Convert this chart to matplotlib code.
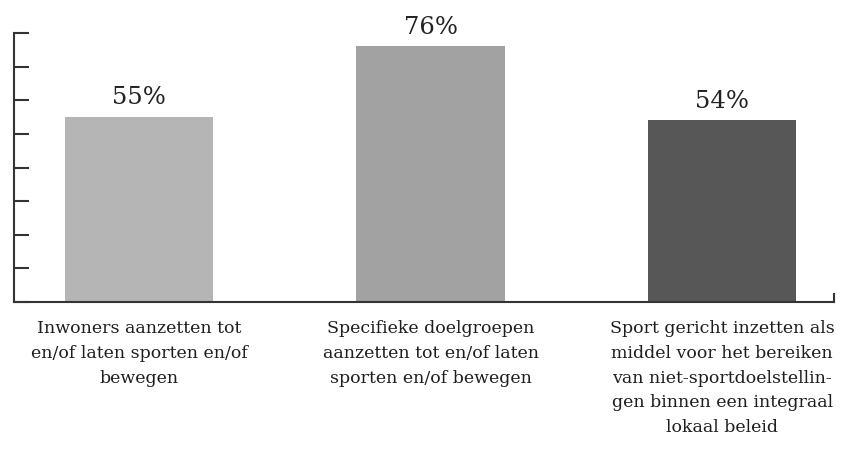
import matplotlib.pyplot as plt
import numpy as np

# data
categories = [
    "Inwoners aanzetten tot\nen/of laten sporten en/of\nbewegen",
    "Specifieke doelgroepen\naanzetten tot en/of laten\nsporten en/of bewegen",
    "Sport gericht inzetten als\nmiddel voor het bereiken\nvan niet-sportdoelstellin-\ngen binnen een integraal\nlokaal beleid",
]
values = [55, 76, 54]
bar_colors = ["#b5b5b5", "#a2a2a2", "#575757"]

plt.rcParams["font.family"] = ["DejaVu Serif"]

fig = plt.figure(figsize=(8.42, 4.51), dpi=100)
ax = fig.add_axes([0.0166, 0.3304, 0.974, 0.5964])

x = np.arange(len(values))
bars = ax.bar(x, values, width=0.51, color=bar_colors)

for xi, v in zip(x, values):
    ax.text(xi, v + 2.3, f"{v}%", ha="center", va="bottom", fontsize=17.5, color="#222222")

for xi, lab in zip(x, categories):
    ax.annotate(lab, (xi, 0), xytext=(0, -13), textcoords="offset points",
                ha="center", va="top", fontsize=12.5, color="#1e1e1e",
                linespacing=1.6, annotation_clip=False)

ax.set_xlim(-0.429, 2.384)
ax.set_ylim(0, 80)
ax.set_yticks(np.arange(0, 81, 10))
ax.set_yticklabels([])
ax.set_xticks([])
ax.tick_params(axis="y", direction="in", length=11, width=1.5, colors="#333333")

ax.spines["top"].set_visible(False)
ax.spines["right"].set_bounds(0, 2.5)
for side in ["left", "bottom", "right"]:
    ax.spines[side].set_linewidth(1.5)
    ax.spines[side].set_color("#333333")

fig.savefig("out.png", dpi=100)
